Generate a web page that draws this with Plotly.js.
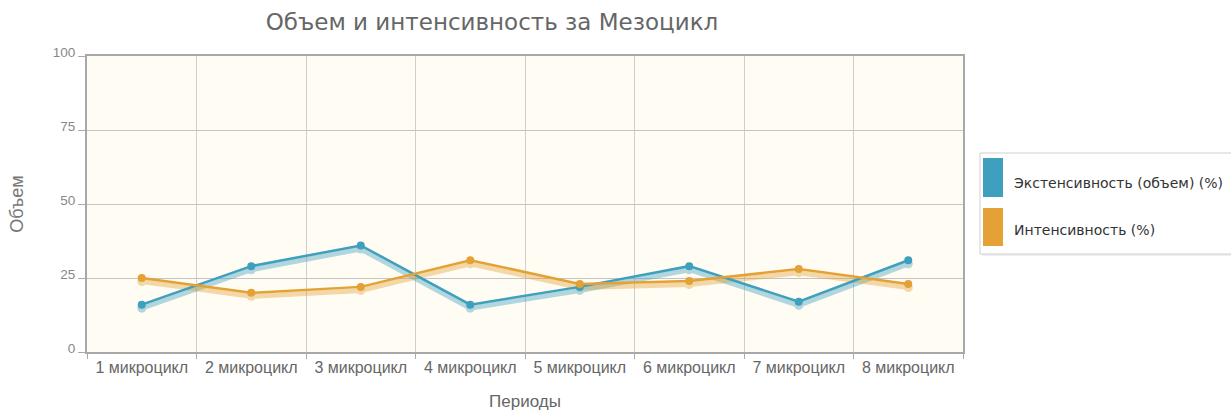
<!DOCTYPE html>
<html>
<head>
<meta charset="utf-8">
<script src="https://cdn.plot.ly/plotly-3.0.1.min.js"></script>
<style>html,body{margin:0;padding:0;background:#fff;}#chart{width:1231px;height:414px;}</style>
</head>
<body>
<div id="chart"></div>
<script>
// ---- data ----
const categories = ["1 микроцикл","2 микроцикл","3 микроцикл","4 микроцикл","5 микроцикл","6 микроцикл","7 микроцикл","8 микроцикл"];
const extensiveName = "Экстенсивность (объем) (%)";
const extensiveValues = [16, 29, 36, 16, 22, 29, 17, 31];
const intensiveName = "Интенсивность (%)";
const intensiveValues = [25, 20, 22, 31, 23, 24, 28, 23];
const yTickVals = [0, 25, 50, 75, 100];
const yTickText = ["0", "25", "50", "75", "100"];

const blue = "#3e9fbe";
const orange = "#e3a136";

// layout geometry (px)
const W = 1231, H = 414;
const M = {l: 87, r: 268, t: 56, b: 62};
const plotW = W - M.l - M.r, plotH = H - M.t - M.b;
const px = v => (v - M.l) / plotW;
const py = v => (H - M.b - v) / plotH;

function anchorTrace(vals) {
  return {x: categories, y: vals, type: "scatter", mode: "lines", yaxis: "y",
    line: {width: 0}, opacity: 0, showlegend: false, hoverinfo: "skip"};
}
function shadow(vals, color) {
  return {x: categories, y: vals, type: "scatter", mode: "lines+markers", yaxis: "y2",
    line: {color: color, width: 5}, marker: {color: color, size: 9}, opacity: 0.4,
    showlegend: false, hoverinfo: "skip"};
}
function main(vals, color, name) {
  return {x: categories, y: vals, type: "scatter", mode: "lines+markers", yaxis: "y3", name: name,
    line: {color: color, width: 2.5}, marker: {color: color, size: 8}, showlegend: false};
}

const data = [
  anchorTrace(extensiveValues),
  shadow(extensiveValues, blue),
  shadow(intensiveValues, orange),
  main(extensiveValues, blue, extensiveName),
  main(intensiveValues, orange, intensiveName)
];

const legendBox = {x0: 980, x1: 1240, y0: 153, y1: 254};
const legendItems = [
  {name: extensiveName, color: blue, sy0: 158, sy1: 197, ty: 183},
  {name: intensiveName, color: orange, sy0: 208, sy1: 246, ty: 230}
];

const shapes = [
  {type: "rect", xref: "paper", yref: "paper", x0: px(legendBox.x0 + 2), x1: px(legendBox.x1 + 2), y0: py(legendBox.y0 + 2), y1: py(legendBox.y1 + 2),
   line: {width: 0}, fillcolor: "rgba(0,0,0,0.06)", layer: "below"},
  {type: "rect", xref: "paper", yref: "paper", x0: px(legendBox.x0), x1: px(legendBox.x1), y0: py(legendBox.y0), y1: py(legendBox.y1),
   line: {color: "#cfcfcf", width: 1}, fillcolor: "#ffffff"}
];
const annotations = [];
legendItems.forEach(it => {
  shapes.push({type: "rect", xref: "paper", yref: "paper", x0: px(983), x1: px(1003), y0: py(it.sy0), y1: py(it.sy1),
    line: {width: 0}, fillcolor: it.color});
  annotations.push({xref: "paper", yref: "paper", x: px(1012), y: py(it.ty), xanchor: "left", yanchor: "middle",
    text: it.name, showarrow: false, font: {family: "DejaVu Sans", size: 14, color: "#333"}});
});

const layout = {
  width: W, height: H,
  margin: M,
  paper_bgcolor: "#ffffff",
  plot_bgcolor: "#fffcf3",
  showlegend: false,
  title: {text: "Объем и интенсивность за Мезоцикл", x: 492 / W, xanchor: "center", xref: "container",
    y: 1 - 22 / H, yanchor: "middle", yref: "container",
    font: {family: "DejaVu Sans", size: 23, color: "#666"}},
  xaxis: {type: "category", tickson: "boundaries", showgrid: true, gridcolor: "#cfcfcf", gridwidth: 1,
    ticks: "outside", ticklen: 5, tickcolor: "#aaa",
    showline: true, mirror: true, linecolor: "#a8a8a8", linewidth: 2,
    tickfont: {family: "Liberation Sans", size: 16, color: "#666"},
    title: {text: "Периоды", font: {family: "Liberation Sans", size: 17, color: "#666"}, standoff: 20},
    range: [-0.5, categories.length - 0.5]},
  yaxis: {range: [0, 100], tickvals: yTickVals, ticktext: yTickText, showgrid: true, gridcolor: "#c4c4c4",
    ticks: "outside", ticklen: 7, tickcolor: "#aaa", zeroline: false, ticklabelshift: -4,
    showline: true, mirror: true, linecolor: "#a8a8a8", linewidth: 2,
    tickfont: {family: "Liberation Sans", size: 13.5, color: "#888"},
    title: {text: "Объем", font: {family: "Liberation Sans", size: 18, color: "#777"}, standoff: 24},
  },
  yaxis2: {overlaying: "y", range: [1.2, 101.2], visible: false, showgrid: false},
  yaxis3: {overlaying: "y", range: [0, 100], visible: false, showgrid: false},
  shapes: shapes,
  annotations: annotations
};

Plotly.newPlot("chart", data, layout, {displayModeBar: false, staticPlot: true});
</script>
</body>
</html>
